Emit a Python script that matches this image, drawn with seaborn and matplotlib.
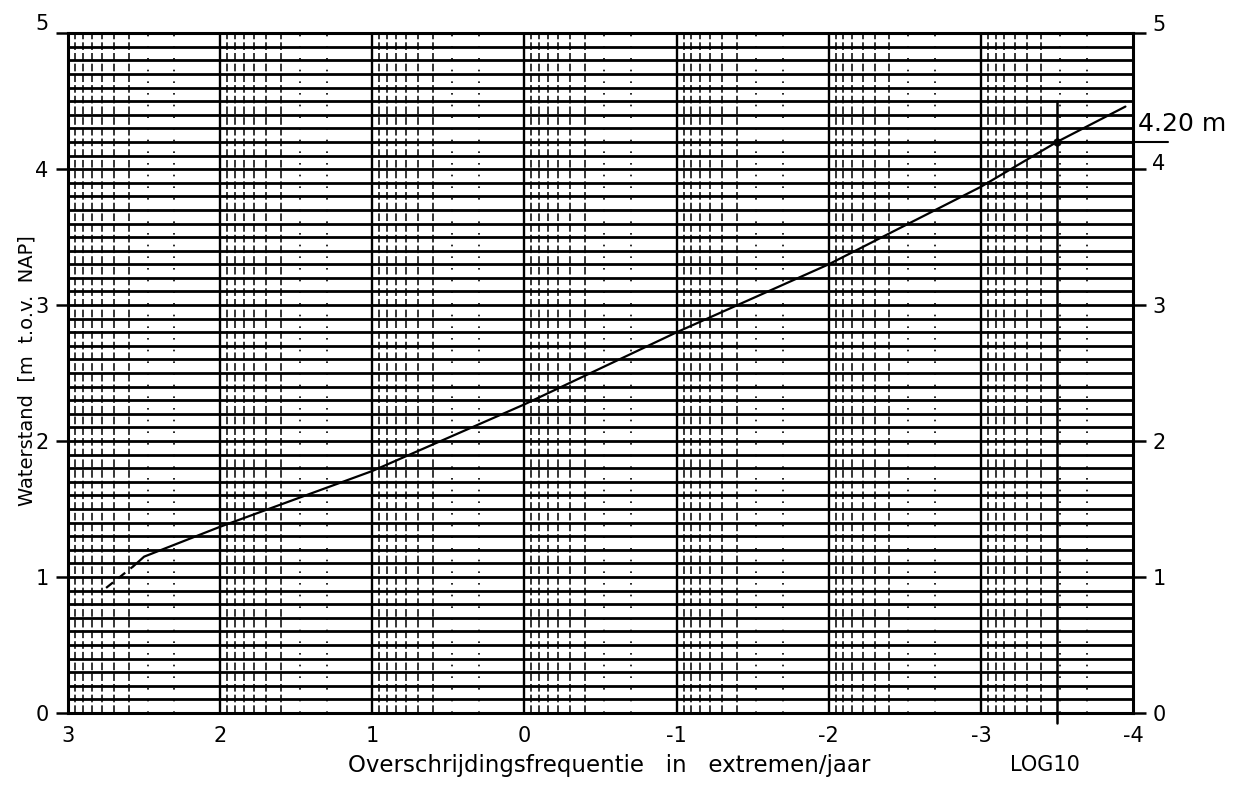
import numpy as np
import pandas as pd
import matplotlib
matplotlib.use("Agg")
import matplotlib.pyplot as plt
import matplotlib.transforms as mtransforms
from matplotlib.ticker import MultipleLocator
import seaborn as sns

# Exceedance curve: log10 of exceedance frequency (extremes per year) vs water level
log_freq = [2.75, 2.57, 2.50, 2.25, 2.00, 1.00, 0.00, -1.00, -2.00, -3.00, -3.50, -3.95]
water_level = [0.92, 1.08, 1.15, 1.26, 1.37, 1.78, 2.27, 2.80, 3.30, 3.87, 4.20, 4.46]
n_dashed = 2  # the first stretch of the curve is drawn dashed (extrapolated)

# Design point
design_freq = -3.5
design_level = 4.20
design_label = "4.20 m"

x_ticks = [3, 2, 1, 0, -1, -2, -3, -4]
y_ticks = [0, 1, 2, 3, 4, 5]

sns.set_theme(style="white")
plt.rcParams["font.family"] = ["DejaVu Sans"]

fig = plt.figure(figsize=(12.44, 7.89), dpi=100)
ax = fig.add_axes([0.0547, 0.0963, 0.9108 - 0.0547, 0.958 - 0.0963])

ax.set_xlim(3, -4)
ax.set_ylim(0, 5)

# Log-paper grid: heavy lines every decade and every 0.1 m, finer lines inside each decade
ax.yaxis.set_minor_locator(MultipleLocator(0.1))
ax.grid(which="both", axis="y", color="black", linewidth=2.0)
decades = np.arange(-4, 3)
ax.vlines(x_ticks[1:-1], 0, 5, color="black", linewidth=1.7, zorder=1)
for n in decades:
    for k in range(4, 10):
        ax.axvline(n + np.log10(k), color="black", linewidth=1.1,
                   linestyle=(0, (5, 2)), zorder=1)
    for k in (2, 3):
        ax.axvline(n + np.log10(k), color="black", linewidth=1.2,
                   linestyle=(0, (1, 6)), zorder=1)

# The curve itself
curve = pd.DataFrame({"freq": log_freq, "level": water_level})
sns.lineplot(data=curve.iloc[:n_dashed], x="freq", y="level", sort=False,
             color="black", linewidth=1.6, linestyle=(0, (4, 3)), ax=ax, zorder=3)
sns.lineplot(data=curve.iloc[n_dashed - 1:], x="freq", y="level", sort=False,
             color="black", linewidth=1.6, ax=ax, zorder=3)

# Design point marker with reading lines
sns.scatterplot(x=[design_freq], y=[design_level], color="black", s=30,
                edgecolor="black", ax=ax, zorder=4)
ax.plot([design_freq, design_freq], [-0.07, 4.5], color="black", linewidth=1.8,
        clip_on=False, zorder=2)
ax.plot([design_freq, -4.23], [design_level, design_level], color="black",
        linewidth=1.5, clip_on=False, zorder=2)
ax.text(-4.03, design_level + 0.04, design_label, fontsize=18, ha="left",
        va="bottom", color="black")

# Axes, ticks and labels
for side in ["left", "right", "top", "bottom"]:
    ax.spines[side].set_visible(True)
    ax.spines[side].set_color("black")
    ax.spines[side].set_linewidth(2.2)

ax.set_xticks(x_ticks)
ax.set_xticklabels([str(v) for v in x_ticks])
ax.set_yticks(y_ticks)
ax.set_yticklabels([str(v) for v in y_ticks])
ax.tick_params(axis="x", length=0, pad=9, labelsize=15, colors="black")
ax.tick_params(axis="y", which="major", direction="out", length=9, width=1.8,
               left=True, right=True, labelleft=True, labelright=True,
               pad=5, labelsize=15, colors="black")
ax.tick_params(axis="y", which="minor", length=0)

# Lift the top labels and the right-hand "4" clear of the frame / annotation
def lift(points):
    return mtransforms.ScaledTranslation(0, points / 72, fig.dpi_scale_trans)

for tick in ax.yaxis.get_major_ticks():
    text = tick.label1.get_text()
    if text == "5":
        tick.label1.set_transform(tick.label1.get_transform() + lift(8))
        tick.label2.set_transform(tick.label2.get_transform() + lift(7))
    elif text == "4":
        tick.label2.set_transform(tick.label2.get_transform() + lift(5))

ax.set_xlabel("")
ax.set_ylabel("")
fig.text(0.49, 0.030, "Overschrijdingsfrequentie   in   extremen/jaar", fontsize=16.5,
         ha="center", va="center", color="black")
fig.text(0.84, 0.030, "LOG10", fontsize=15, ha="center", va="center", color="black")
fig.text(0.022, 0.53, "Waterstand  [m  t.o.v.  NAP]", fontsize=14, rotation=90,
         ha="center", va="center", color="black")

fig.savefig("out.png", dpi=100, facecolor="white")
